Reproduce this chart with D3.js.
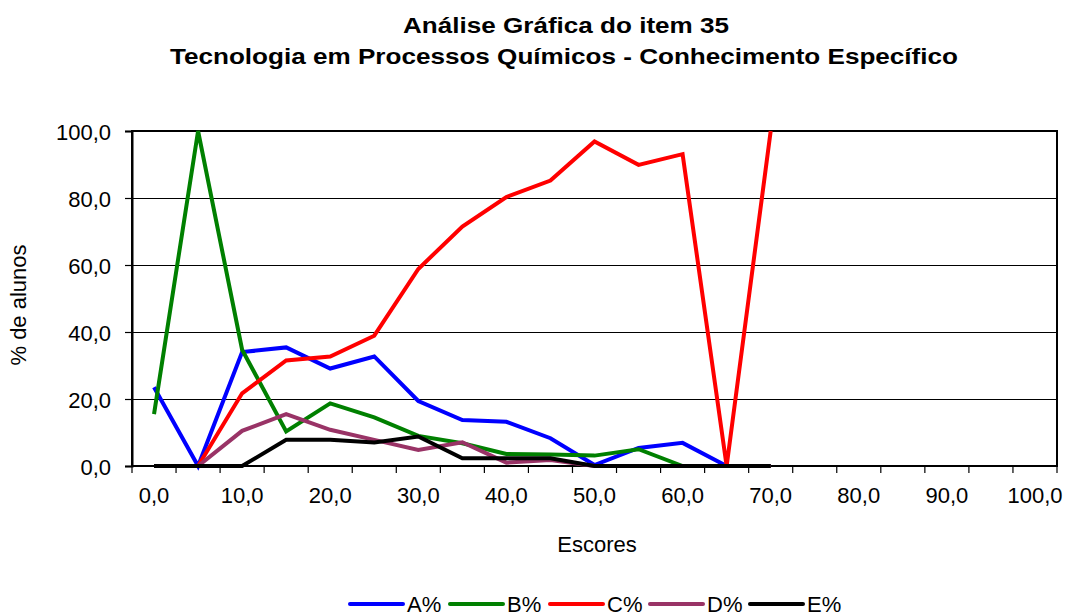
<!DOCTYPE html>
<html>
<head>
<meta charset="utf-8">
<script src="https://cdn.jsdelivr.net/npm/d3@7"></script>
<style>
  body { margin: 0; background: #fff; }
  svg text { font-family: "Liberation Sans", Arial, sans-serif; fill: #000; }
</style>
</head>
<body>
<div id="viz"></div>
<script>
// score categories (x axis, category-style like Excel)
var categories = d3.range(0, 101, 5);
var xLabels = ["0,0", "10,0", "20,0", "30,0", "40,0", "50,0", "60,0", "70,0", "80,0", "90,0", "100,0"];
var yTicks = [0, 20, 40, 60, 80, 100];

// % of students per score, scores 0..70
var scores = [0, 5, 10, 15, 20, 25, 30, 35, 40, 45, 50, 55, 60, 65, 70];
var aPct = [23.5, 0, 34.0, 35.4, 29.1, 32.7, 19.4, 13.7, 13.2, 8.3, 0.3, 5.4, 6.9, 0, 0];
var bPct = [15.5, 100, 34.7, 10.3, 18.7, 14.5, 9.0, 6.8, 3.6, 3.4, 3.1, 5.0, 0, 0, 0];
var cPct = [0, 0, 21.7, 31.5, 32.7, 38.9, 58.8, 71.5, 80.3, 85.2, 96.9, 89.9, 93.1, 0, 100];
var dPct = [0, 0, 10.5, 15.5, 10.8, 7.8, 4.8, 7.1, 1.0, 1.8, 0, 0, 0, 0, 0];
var ePct = [0, 0, 0, 7.8, 7.8, 7.0, 8.8, 2.3, 2.3, 2.3, 0, 0, 0, 0, 0];

var seriesNames = ["A%", "B%", "C%", "D%", "E%"];
var seriesColors = ["#0000ff", "#008000", "#ff0000", "#993366", "#000000"];

var series = [aPct, bPct, cPct, dPct, ePct].map(function(v, i){
  return {name: seriesNames[i], color: seriesColors[i], values: v};
});

var W = 1067, H = 616;
var plot = {left: 132, right: 1057, top: 131, bottom: 466};

var svg = d3.select("#viz").append("svg")
  .attr("width", W)
  .attr("height", H);

var x = d3.scaleBand()
  .domain(categories)
  .range([plot.left, plot.right])
  .padding(0);

var y = d3.scaleLinear()
  .domain([0, 100])
  .range([plot.bottom, plot.top]);

function cx(s){ return x(s) + x.bandwidth() / 2; }

// title
var title = svg.append("g")
  .attr("font-weight", "bold")
  .attr("font-size", "22.5px")
  .attr("text-anchor", "middle");
title.append("text").attr("x", 566).attr("y", 33)
  .attr("textLength", 326).attr("lengthAdjust", "spacingAndGlyphs")
  .text("Análise Gráfica do item 35");
title.append("text").attr("x", 564).attr("y", 64)
  .attr("textLength", 788).attr("lengthAdjust", "spacingAndGlyphs")
  .text("Tecnologia em Processos Químicos - Conhecimento Específico");

// gridlines
svg.append("g")
  .attr("shape-rendering", "crispEdges")
  .selectAll("line")
  .data(yTicks.filter(function(d){ return d > 0 && d < 100; }))
  .enter().append("line")
    .attr("x1", plot.left).attr("x2", plot.right)
    .attr("y1", function(d){ return Math.round(y(d)) + 0.5; })
    .attr("y2", function(d){ return Math.round(y(d)) + 0.5; })
    .attr("stroke", "#000")
    .attr("stroke-width", 1);

// plot border
svg.append("rect")
  .attr("x", plot.left).attr("y", plot.top)
  .attr("width", plot.right - plot.left)
  .attr("height", plot.bottom - plot.top)
  .attr("fill", "none")
  .attr("stroke", "#000")
  .attr("stroke-width", 2);

// y axis
var yAxis = svg.append("g")
  .attr("transform", "translate(" + plot.left + ",0)")
  .call(d3.axisLeft(y)
    .tickValues(yTicks)
    .tickSize(7)
    .tickPadding(14)
    .tickFormat(function(d){ return d3.format(".1f")(d).replace(".", ","); }));
yAxis.select(".domain").attr("stroke-width", 2);
yAxis.selectAll(".tick line").attr("stroke-width", 1.2);
yAxis.selectAll("text")
  .attr("font-size", "22px")
  .attr("font-family", "Liberation Sans, Arial, sans-serif")
  .attr("dy", "0.4em");

// x axis: ticks on category boundaries, labels every 10
var xg = svg.append("g");
var bounds = categories.map(function(c){ return x(c); }).concat([plot.right]);
xg.selectAll("line")
  .data(bounds)
  .enter().append("line")
    .attr("x1", function(d){ return d; })
    .attr("x2", function(d){ return d; })
    .attr("y1", plot.bottom)
    .attr("y2", plot.bottom + 7)
    .attr("stroke", "#000")
    .attr("stroke-width", 1.2);
xg.selectAll("text")
  .data(xLabels)
  .enter().append("text")
    .attr("x", function(d, i){ return cx(categories[i * 2]); })
    .attr("y", 503)
    .attr("text-anchor", "middle")
    .attr("font-size", "22px")
    .text(function(d){ return d; });

// axis titles
svg.append("text")
  .attr("x", 597).attr("y", 552)
  .attr("text-anchor", "middle")
  .attr("font-size", "22px")
  .text("Escores");

svg.append("text")
  .attr("transform", "translate(26,305) rotate(-90)")
  .attr("text-anchor", "middle")
  .attr("font-size", "22px")
  .text("% de alunos");

// lines
var line = d3.line()
  .x(function(d, i){ return cx(scores[i]); })
  .y(function(d){ return y(d); });

svg.append("g")
  .selectAll("path")
  .data(series)
  .enter().append("path")
    .attr("d", function(d){ return line(d.values); })
    .attr("fill", "none")
    .attr("stroke", function(d){ return d.color; })
    .attr("stroke-width", 4)
    .attr("stroke-linejoin", "miter")
    .attr("stroke-linecap", "butt");

// legend
var legend = svg.append("g")
  .selectAll("g")
  .data(series)
  .enter().append("g")
    .attr("transform", function(d, i){ return "translate(" + (350 + i * 100) + ",604)"; });
legend.append("line")
  .attr("x1", 0).attr("x2", 53)
  .attr("stroke", function(d){ return d.color; })
  .attr("stroke-width", 4)
  .attr("stroke-linecap", "round");
legend.append("text")
  .attr("x", 57).attr("y", 8)
  .attr("font-size", "22px")
  .text(function(d){ return d.name; });
</script>
</body>
</html>
